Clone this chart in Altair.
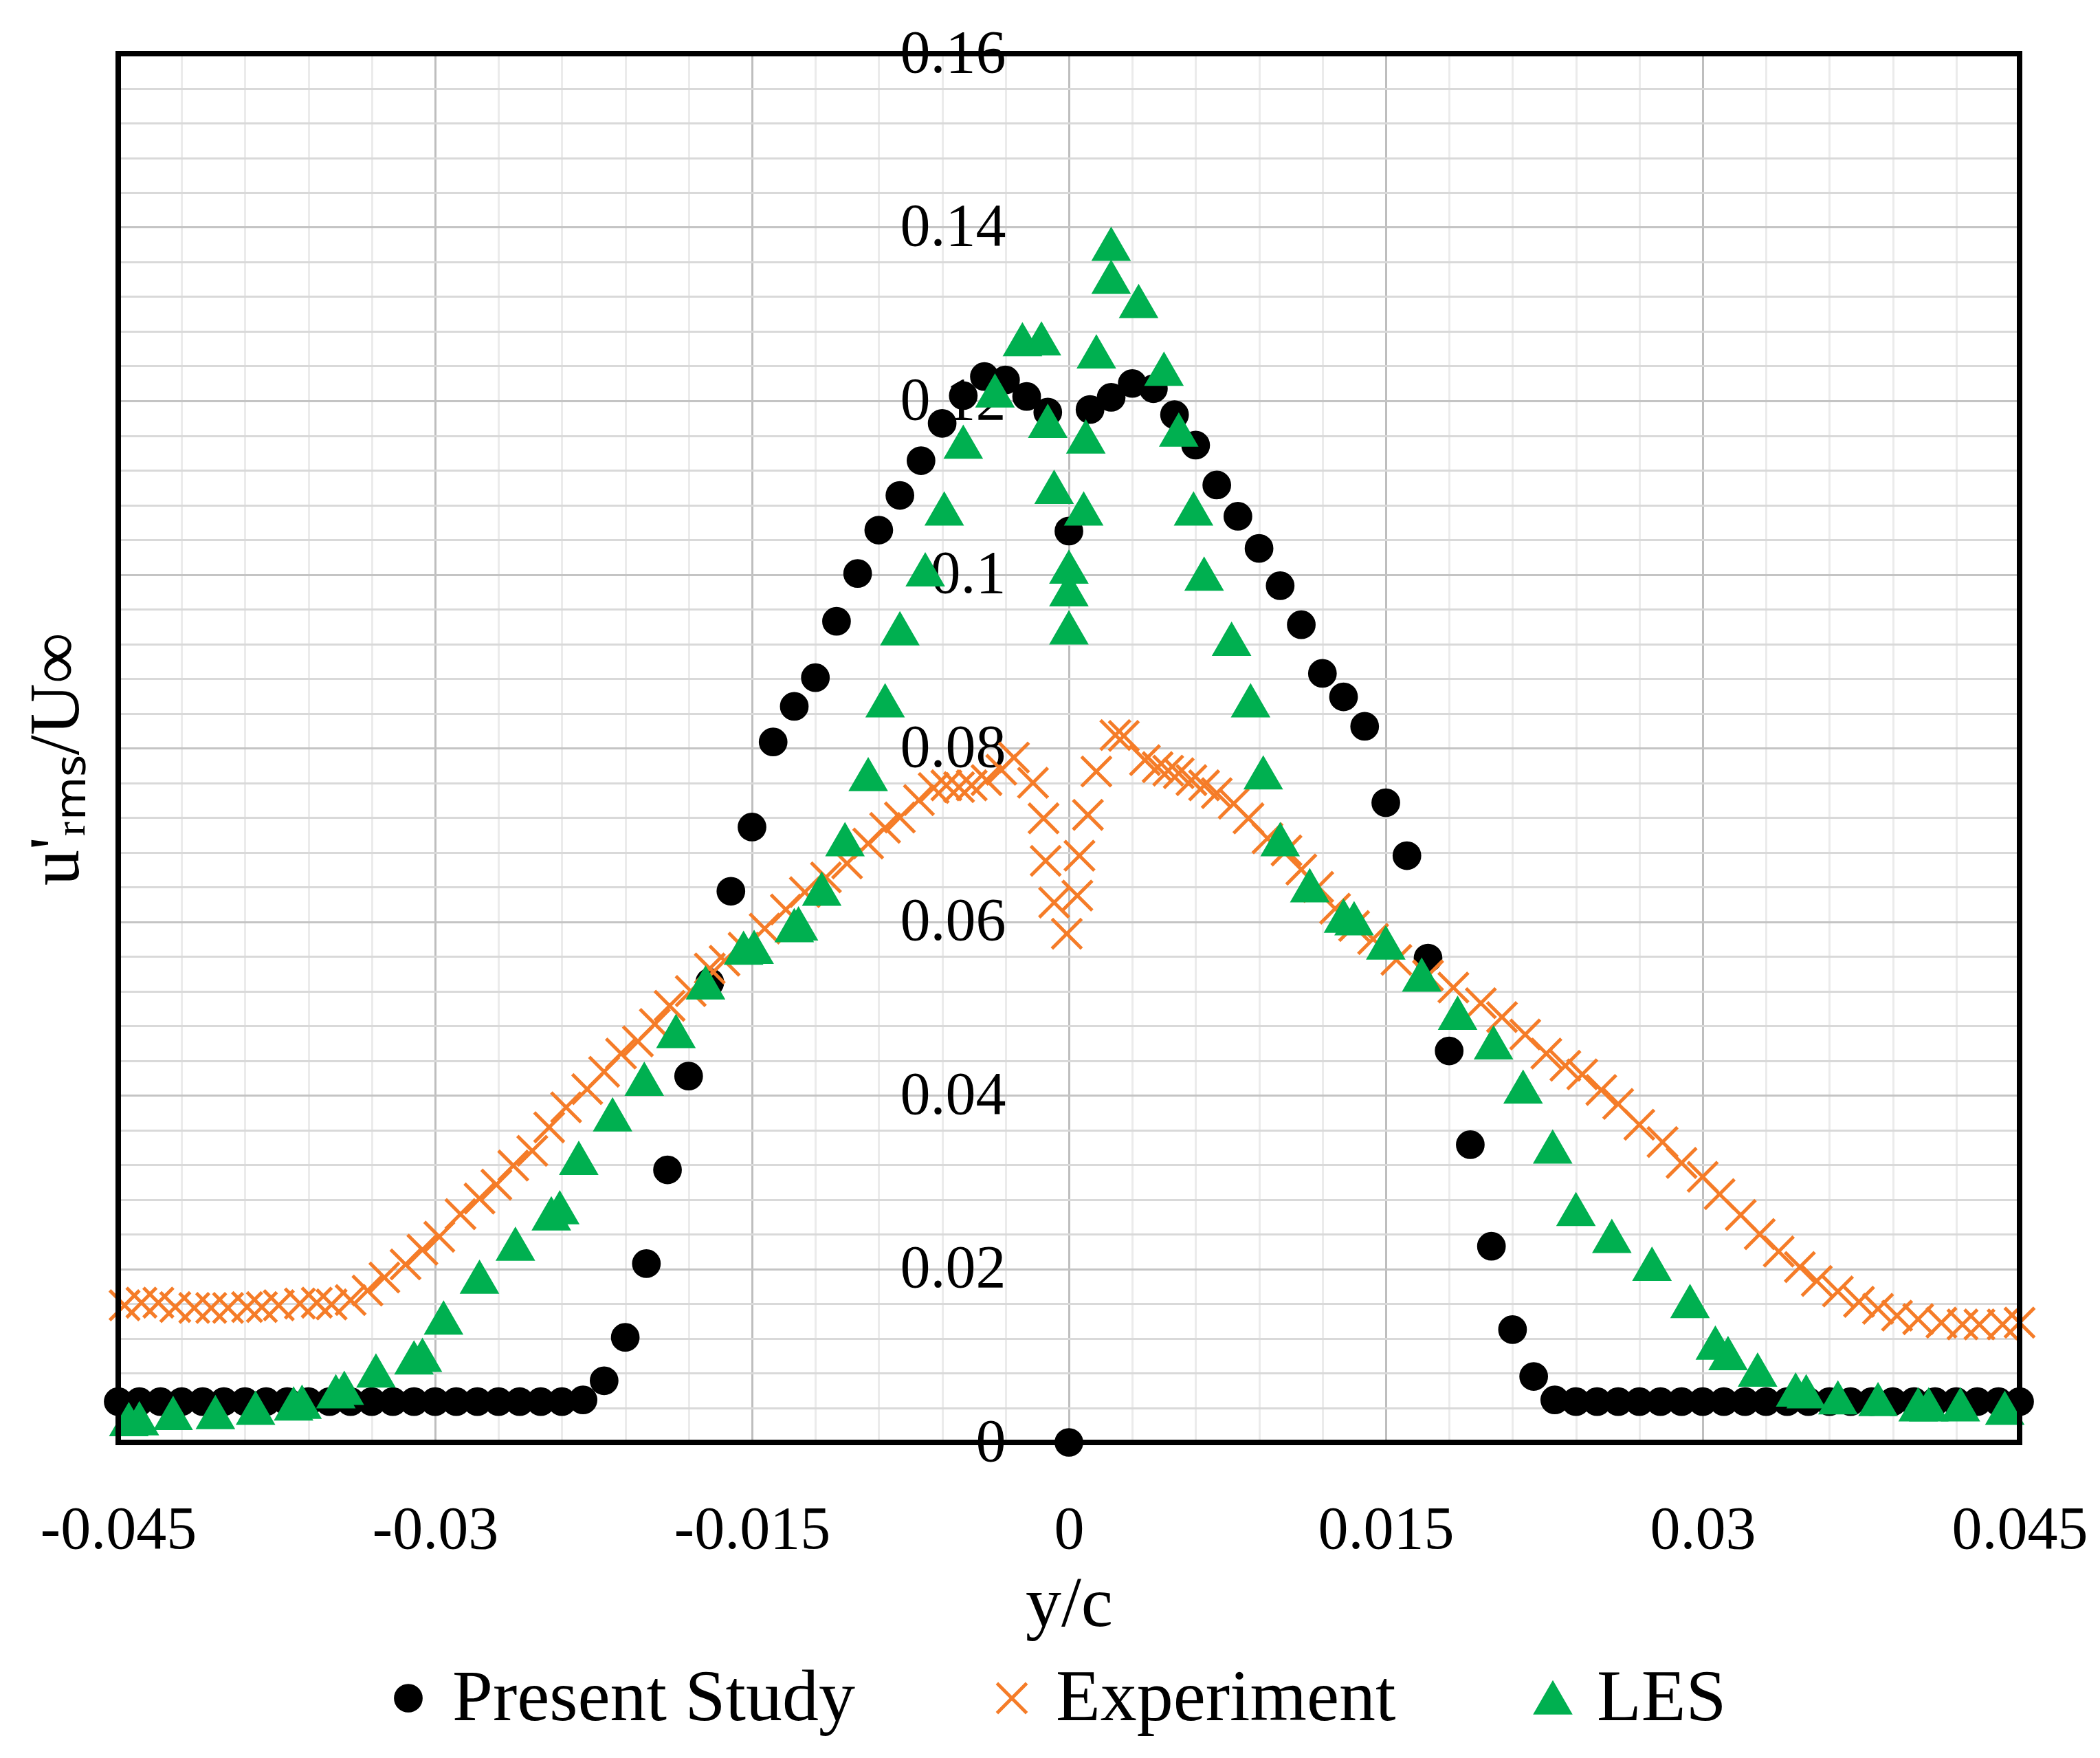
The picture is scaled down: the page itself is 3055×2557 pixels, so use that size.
import altair as alt
import pandas as pd

FONT = "Liberation Serif"

# ---------------- data ----------------
series_names = ["Present Study", "Experiment", "LES"]
series_colors = ["#000000", "#F57C28", "#00B050"]

ps_x = [-0.045, -0.044, -0.043, -0.042, -0.041, -0.040, -0.039, -0.038, -0.037, -0.036,
        -0.035, -0.034, -0.033, -0.032, -0.031, -0.030, -0.029, -0.028, -0.027, -0.026,
        -0.025, -0.024, -0.023, -0.022, -0.021, -0.020, -0.019, -0.018, -0.017, -0.016,
        -0.015, -0.014, -0.013, -0.012, -0.011, -0.010, -0.009, -0.008, -0.007, -0.006,
        -0.005, -0.004, -0.003, -0.002, -0.001, 0.000, 0.000, 0.001, 0.002, 0.003,
        0.004, 0.005, 0.006, 0.007, 0.008, 0.009, 0.010, 0.011, 0.012, 0.013,
        0.014, 0.015, 0.016, 0.017, 0.018, 0.019, 0.020, 0.021, 0.022, 0.023,
        0.024, 0.025, 0.026, 0.027, 0.028, 0.029, 0.030, 0.031, 0.032, 0.033,
        0.034, 0.035, 0.036, 0.037, 0.038, 0.039, 0.040, 0.041, 0.042, 0.043,
        0.044, 0.045]
ps_y = [0.0047, 0.0047, 0.0047, 0.0047, 0.0047, 0.0047, 0.0047, 0.0047, 0.0047, 0.0047,
        0.0047, 0.0047, 0.0047, 0.0047, 0.0047, 0.0047, 0.0047, 0.0047, 0.0047, 0.0047,
        0.0047, 0.0047, 0.0049, 0.0071, 0.0121, 0.0206, 0.0314, 0.0422, 0.0530, 0.0635,
        0.0709, 0.0807, 0.0848, 0.0881, 0.0946, 0.1001, 0.1051, 0.1091, 0.1131, 0.1174,
        0.1206, 0.1228, 0.1224, 0.1205, 0.1187, 0.1050, 0.0000, 0.1190, 0.1204, 0.1220,
        0.1214, 0.1184, 0.1149, 0.1103, 0.1067, 0.1030, 0.0987, 0.0942, 0.0886, 0.0859,
        0.0825, 0.0737, 0.0676, 0.0558, 0.0451, 0.0343, 0.0226, 0.0130, 0.0076, 0.0049,
        0.0047, 0.0047, 0.0047, 0.0047, 0.0047, 0.0047, 0.0047, 0.0047, 0.0047, 0.0047,
        0.0047, 0.0047, 0.0047, 0.0047, 0.0047, 0.0047, 0.0047, 0.0047, 0.0047, 0.0047,
        0.0047, 0.0047]

exp_x = [-0.0447, -0.0439, -0.0431, -0.0423, -0.0414, -0.0406, -0.0398, -0.0389, -0.0382, -0.0374,
         -0.0364, -0.0356, -0.0349, -0.0340, -0.0332, -0.0324, -0.0314, -0.0306, -0.0298, -0.0288,
         -0.0279, -0.0271, -0.0263, -0.0254, -0.0246, -0.0238, -0.0228, -0.0220, -0.0212, -0.0204,
         -0.0196, -0.0189, -0.0179, -0.0170, -0.0163, -0.0154, -0.0144, -0.0134, -0.0125, -0.0115,
         -0.0105, -0.0095, -0.0087, -0.0080, -0.0071, -0.0064, -0.0058, -0.0052, -0.0046, -0.0039,
         -0.0032, -0.0026, -0.0017, -0.0012, -0.0011, -0.0007, -0.0001, 0.0004, 0.0005, 0.0009,
         0.0013, 0.0022, 0.0026, 0.0036, 0.0042, 0.0047, 0.0052, 0.0058, 0.0064, 0.0070,
         0.0078, 0.0085, 0.0094, 0.0103, 0.0110, 0.0118, 0.0126, 0.0135, 0.0144, 0.0155,
         0.0170, 0.0182, 0.0195, 0.0205, 0.0216, 0.0226, 0.0235, 0.0243, 0.0252, 0.0260,
         0.0270, 0.0281, 0.0290, 0.0300, 0.0308, 0.0318, 0.0327, 0.0336, 0.0346, 0.0354,
         0.0364, 0.0374, 0.0383, 0.0392, 0.0402, 0.0413, 0.0423, 0.0431, 0.0442, 0.0450]
exp_y = [0.0158, 0.0161, 0.0161, 0.0156, 0.0155, 0.0155, 0.0155, 0.0156, 0.0156, 0.0158,
         0.0160, 0.0161, 0.0159, 0.0164, 0.0175, 0.0190, 0.0205, 0.0222, 0.0237, 0.0263,
         0.0281, 0.0297, 0.0319, 0.0336, 0.0363, 0.0386, 0.0407, 0.0427, 0.0448, 0.0462,
         0.0482, 0.0503, 0.0520, 0.0546, 0.0555, 0.0570, 0.0592, 0.0614, 0.0634, 0.0651,
         0.0667, 0.0690, 0.0708, 0.0720, 0.0740, 0.0754, 0.0757, 0.0755, 0.0757, 0.0763,
         0.0775, 0.0789, 0.0760, 0.0719, 0.0670, 0.0622, 0.0586, 0.0630, 0.0676, 0.0723,
         0.0773, 0.0815, 0.0814, 0.0786, 0.0778, 0.0774, 0.0771, 0.0763, 0.0757, 0.0748,
         0.0736, 0.0719, 0.0696, 0.0682, 0.0660, 0.0640, 0.0615, 0.0595, 0.0580, 0.0556,
         0.0538, 0.0524, 0.0506, 0.0490, 0.0470, 0.0448, 0.0434, 0.0424, 0.0406, 0.0390,
         0.0366, 0.0346, 0.0322, 0.0306, 0.0286, 0.0262, 0.0240, 0.0220, 0.0202, 0.0186,
         0.0174, 0.0162, 0.0154, 0.0146, 0.0142, 0.0138, 0.0136, 0.0136, 0.0136, 0.0138]

les_x = [-0.0445, -0.0440, -0.0424, -0.0404, -0.0385, -0.0367, -0.0363, -0.0347, -0.0343, -0.0328,
         -0.0310, -0.0306, -0.0296, -0.0279, -0.0262, -0.0245, -0.0241, -0.0232, -0.0216, -0.0201,
         -0.0186, -0.0172, -0.0154, -0.0149, -0.0130, -0.0128, -0.0117, -0.0106, -0.0095, -0.0087,
         -0.0080, -0.0068, -0.0059, -0.0050, -0.0035, -0.0022, -0.0013, -0.0010, -0.0007, 0.0000,
         0.0000, 0.0000, 0.0007, 0.0008, 0.0013, 0.0020, 0.0020, 0.0033, 0.0045,
         0.0052, 0.0059, 0.0064, 0.0077, 0.0086, 0.0092, 0.0100, 0.0114, 0.0130, 0.0135,
         0.0150, 0.0167, 0.0184, 0.0201, 0.0215, 0.0229, 0.0240, 0.0257, 0.0276, 0.0294,
         0.0306, 0.0312, 0.0326, 0.0344, 0.0349, 0.0364, 0.0383, 0.0402, 0.0407, 0.0422,
         0.0443]
les_y = [0.0026, 0.0027, 0.0033, 0.0034, 0.0039, 0.0044, 0.0046, 0.0058, 0.0062, 0.0082,
         0.0097, 0.0100, 0.0143, 0.0190, 0.0228, 0.0263, 0.0270, 0.0327, 0.0377, 0.0418,
         0.0473, 0.0529, 0.0569, 0.0570, 0.0595, 0.0597, 0.0637, 0.0694, 0.0769, 0.0854,
         0.0937, 0.1005, 0.1075, 0.1152, 0.1211, 0.1270, 0.1271, 0.1176, 0.1100, 0.1008,
         0.0982, 0.0938, 0.1075, 0.1158, 0.1256, 0.1342, 0.1380, 0.1314, 0.1236,
         0.1166, 0.1075, 0.1000, 0.0925, 0.0854, 0.0771, 0.0694, 0.0641, 0.0606, 0.0603,
         0.0575, 0.0538, 0.0494, 0.0460, 0.0409, 0.0340, 0.0268, 0.0237, 0.0205, 0.0162,
         0.0114, 0.0102, 0.0083, 0.0060, 0.0058, 0.0051, 0.0049, 0.0043, 0.0043, 0.0043,
         0.0039]

x_tick_values = [-0.045, -0.042, -0.039, -0.036, -0.033, -0.030, -0.027, -0.024, -0.021, -0.018,
                 -0.015, -0.012, -0.009, -0.006, -0.003, 0.0, 0.003, 0.006, 0.009, 0.012,
                 0.015, 0.018, 0.021, 0.024, 0.027, 0.030, 0.033, 0.036, 0.039, 0.042, 0.045]
y_tick_values = [0.0, 0.004, 0.008, 0.012, 0.016, 0.02, 0.024, 0.028, 0.032, 0.036,
                 0.04, 0.044, 0.048, 0.052, 0.056, 0.06, 0.064, 0.068, 0.072, 0.076,
                 0.08, 0.084, 0.088, 0.092, 0.096, 0.1, 0.104, 0.108, 0.112, 0.116,
                 0.12, 0.124, 0.128, 0.132, 0.136, 0.14, 0.144, 0.148, 0.152, 0.156, 0.16]

x_title = "y/c"
y_title = "u'ᵣₘₛ/U∞"

# ---------------- build table ----------------
df = pd.concat([
    pd.DataFrame({"x": ps_x, "y": ps_y, "series": series_names[0]}),
    pd.DataFrame({"x": exp_x, "y": exp_y, "series": series_names[1]}),
    pd.DataFrame({"x": les_x, "y": les_y, "series": series_names[2]}),
], ignore_index=True)
df["order"] = range(len(df))

W, H = 2766, 2020

x_major = "abs(datum.value/0.015 - round(datum.value/0.015)) < 0.001"
y_major = "abs(datum.value/0.02 - round(datum.value/0.02)) < 0.001"

legend = alt.Legend(
    title=None, orient="none", legendX=369, legendY=2339, direction="horizontal",
    labelFont=FONT, labelFontSize=106, labelColor="#000000", labelOffset=11,
    columnPadding=175, padding=0, symbolStrokeWidth=5, labelLimit=1000,
)

x_enc = alt.X(
    "x:Q",
    scale=alt.Scale(domain=[-0.045, 0.045], nice=False, zero=False),
    axis=alt.Axis(
        values=x_tick_values, grid=True,
        gridColor={"condition": {"test": x_major, "value": "#BEBEBE"}, "value": "#EBEBEB"},
        gridWidth=3, ticks=False, tickSize=0, domain=False,
        labelExpr=f"{x_major} ? toString(round(datum.value*1000)/1000) : ''",
        labelFont=FONT, labelFontSize=88, labelColor="#000000", labelPadding=127,
        labelBaseline="middle", labelFlush=False, labelOverlap=False, labelLimit=1000,
        title=x_title, titleFont=FONT, titleFontSize=104, titleFontWeight="normal",
        titleColor="#000000", titleY=235, titleBaseline="middle",
    ),
)
y_enc = alt.Y(
    "y:Q",
    scale=alt.Scale(domain=[0, 0.16], nice=False, zero=True),
    axis=alt.Axis(
        values=y_tick_values, grid=True,
        gridColor={"condition": {"test": y_major, "value": "#C4C4C4"}, "value": "#D9D9D9"},
        gridWidth=3, ticks=False, tickSize=0, domain=False, offset=-W / 2,
        labelExpr=f"{y_major} ? toString(round(datum.value*1000)/1000) : ''",
        labelFont=FONT, labelFontSize=88, labelColor="#000000", labelPadding=92,
        labelAlign="right", labelBaseline="middle", labelOverlap=False, labelLimit=1000,
        title=None,
    ),
)

sc_color = alt.Scale(domain=series_names, range=series_colors)

points = alt.Chart(df).mark_point(filled=True, strokeWidth=5, opacity=1).encode(
    x=x_enc,
    y=y_enc,
    fill=alt.Fill("series:N", scale=sc_color, legend=legend, sort=series_names),
    stroke=alt.Stroke("series:N", scale=sc_color, legend=legend, sort=series_names),
    shape=alt.Shape("series:N", scale=alt.Scale(domain=series_names,
                    range=["circle", "M-1,-1L1,1M-1,1L1,-1", "triangle-up"]),
                    legend=legend, sort=series_names),
    size=alt.Size("series:N", scale=alt.Scale(domain=series_names, range=[1350, 2400, 4100]),
                  legend=legend, sort=series_names),
    order=alt.Order("order:Q"),
)

frame = alt.Chart(pd.DataFrame({"k": [0]})).mark_rect(
    filled=False, stroke="#000000", strokeWidth=8
).encode(x=alt.value(0), x2=alt.value(W), y=alt.value(0), y2=alt.value(H))

ytitle = alt.Chart(pd.DataFrame({"label": [y_title]})).mark_text(
    angle=270, font=FONT, fontSize=104, color="#000000", align="center", baseline="middle"
).encode(x=alt.value(-89), y=alt.value(1026), text="label:N")

chart = alt.layer(points, frame, ytitle).properties(
    width=W, height=H,
    autosize=alt.AutoSizeParams(type="none"),
    padding={"left": 164, "top": 70, "right": 109, "bottom": 451},
    background="white",
).configure_view(stroke="transparent")

chart.save("out.html", embed_options={"renderer": "svg", "actions": False})
